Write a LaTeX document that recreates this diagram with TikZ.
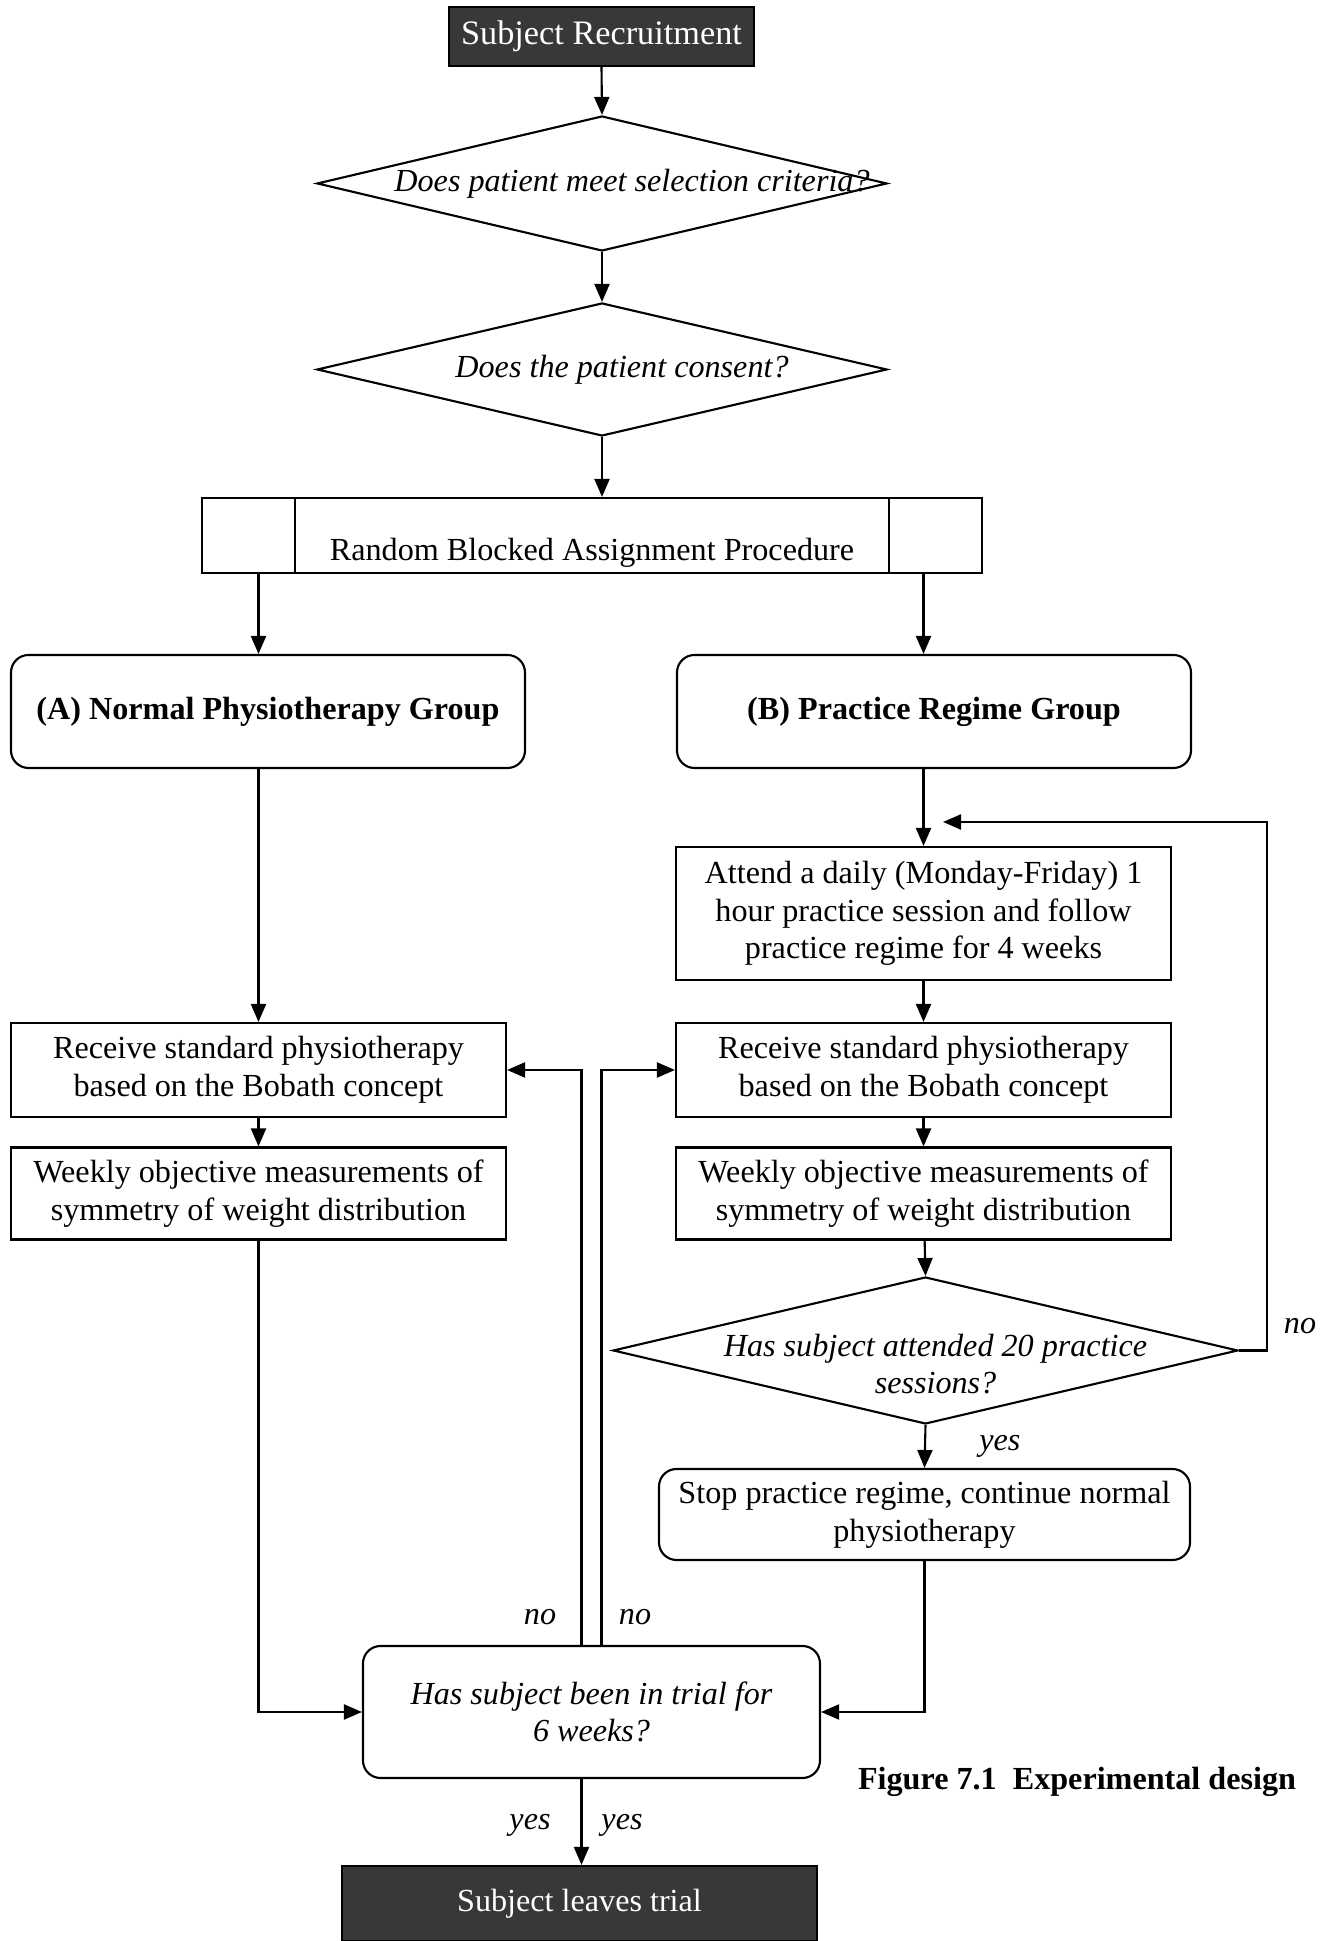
\documentclass[tikz,border=0pt]{standalone}
\usepackage{fontspec}
\setmainfont{Liberation Serif}
\usetikzlibrary{arrows.meta, positioning, calc, shapes.geometric}
\newcommand{\bodyfont}{\fontsize{18.3}{21.5}\selectfont}

\begin{document}
\begin{tikzpicture}[
    box/.style={draw, line width=1.2pt, align=center, inner sep=0pt, font=\bodyfont},
    rbox/.style={box, rounded corners=0.35cm},
    dark/.style={draw, line width=1.2pt, fill=black!78, text=white, inner sep=0pt, font=\bodyfont},
    decision/.style={diamond, draw, line width=1.2pt, inner sep=0pt},
    q/.style={font=\bodyfont\itshape, align=center},
    lbl/.style={font=\bodyfont\itshape},
    ->, >={Triangle[length=0.36cm, width=0.3cm]}, line width=1.2pt
]
    \useasboundingbox (0,0) rectangle (26.4,38.82);

    % Nodes (manual layout, top to bottom)
    \node[dark, minimum width=6.1cm, minimum height=1.18cm, font=\fontsize{19.5}{22}\selectfont] (recruit) at (12.03,38.09) {Subject Recruitment};
    \node[decision, minimum width=11.4cm, minimum height=2.7cm,
          label={[q, xshift=0.6cm]center:Does patient meet selection criteria?}] (criteria) at (12.04,35.15) {};
    \node[decision, minimum width=11.4cm, minimum height=2.66cm,
          label={[q, xshift=0.4cm]center:Does the patient consent?}] (consent) at (12.04,31.43) {};
    \node[box, minimum width=15.6cm, minimum height=1.5cm, text height=1.15cm, text depth=0.14cm] (assign) at (11.84,28.11) {Random Blocked Assignment Procedure};
    \draw[-] ([xshift=1.88cm]assign.north west) -- ([xshift=1.88cm]assign.south west);
    \draw[-] ([xshift=-1.88cm]assign.north east) -- ([xshift=-1.88cm]assign.south east);

    \node[rbox, minimum width=10.28cm, minimum height=2.26cm, font=\bodyfont\bfseries] (groupA) at (5.36,24.59) {(A) Normal Physiotherapy Group};
    \node[rbox, minimum width=10.28cm, minimum height=2.26cm, font=\bodyfont\bfseries] (groupB) at (18.68,24.59) {(B) Practice Regime Group};

    \node[box, minimum width=9.9cm, minimum height=2.66cm] (attend) at (18.47,20.55)
        {Attend a daily (Monday-Friday) 1\\hour practice session and follow\\practice regime for 4 weeks};
    \node[box, minimum width=9.9cm, minimum height=1.88cm] (bobathA) at (5.17,17.42)
        {Receive standard physiotherapy\\based on the Bobath concept};
    \node[box, minimum width=9.9cm, minimum height=1.88cm] (bobathB) at (18.47,17.42)
        {Receive standard physiotherapy\\based on the Bobath concept};
    \node[box, minimum width=9.9cm, minimum height=1.84cm] (weighA) at (5.17,14.95)
        {Weekly objective measurements of\\symmetry of weight distribution};
    \node[box, minimum width=9.9cm, minimum height=1.84cm] (weighB) at (18.47,14.95)
        {Weekly objective measurements of\\symmetry of weight distribution};
    \node[decision, minimum width=12.5cm, minimum height=2.94cm,
          label={[q, xshift=0.2cm, yshift=-0.27cm]center:Has subject attended 20 practice\\sessions?}] (sessions) at (18.51,11.81) {};
    \node[rbox, minimum width=10.62cm, minimum height=1.82cm] (stop) at (18.49,8.53)
        {Stop practice regime, continue normal\\physiotherapy};
    \node[rbox, minimum width=9.14cm, minimum height=2.64cm, font=\bodyfont\itshape] (sixwk) at (11.83,4.58)
        {Has subject been in trial for\\6 weeks?};
    \node[dark, minimum width=9.5cm, minimum height=1.5cm] (leave) at (11.59,0.75) {Subject leaves trial};
    \node[font=\bodyfont\bfseries] (caption) at (21.54,3.18) {Figure 7.1\enspace Experimental design};

    % Edges down the main line
    \draw (recruit.south) -- (criteria.north);
    \draw (criteria.south) -- (consent.north);
    \draw (consent.south) -- (consent.south |- assign.north);
    \draw (assign.south -| bobathA) -- (groupA.north -| bobathA);
    \draw (assign.south -| bobathB) -- (groupB.north -| bobathB);

    % Edges of group A
    \draw (groupA.south -| bobathA) -- (bobathA.north);
    \draw (bobathA) -- (weighA);
    \draw (weighA.south) |- (sixwk.west);

    % Edges of group B
    \draw (groupB.south -| attend) -- (attend.north);
    \draw (attend) -- (bobathB);
    \draw (bobathB) -- (weighB);
    \draw (weighB) -- (sessions.north);
    \draw (sessions.south) -- node[lbl, right=0.95cm] (yesB) {yes} (stop.north);
    \draw (stop.south) |- (sixwk.east);

    % Loop back when fewer than 20 sessions
    \coordinate (loopin) at (18.86,22.38);
    \draw (sessions.east) -- ++(0.56,0) |- (loopin);
    \node[lbl] (noB) at (26.0,12.3) {no};

    % Loops back when not yet 6 weeks
    \draw ([xshift=-0.2cm]sixwk.north) |- (bobathA.east);
    \draw ([xshift=0.2cm]sixwk.north) |- (bobathB.west);
    \node[lbl] (noL) at (10.8,6.48) {no};
    \node[lbl] (noR) at (12.7,6.48) {no};

    % Exit
    \draw ([xshift=-0.2cm]sixwk.south) -- ([xshift=-0.2cm]sixwk.south |- leave.north);
    \node[lbl] (yesL) at (10.6,2.32) {yes};
    \node[lbl] (yesR) at (12.44,2.32) {yes};
\end{tikzpicture}
\end{document}
